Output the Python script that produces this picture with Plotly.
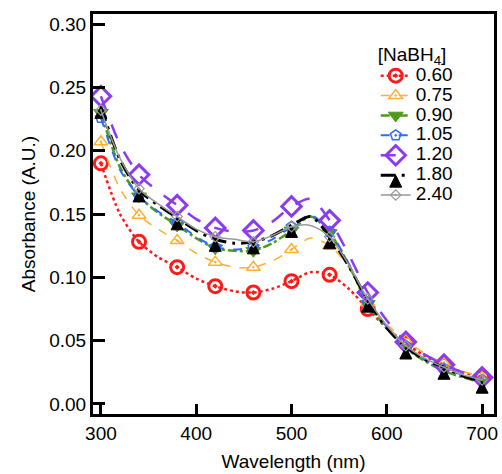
import plotly.graph_objects as go

wavelength = [300, 320, 340, 360, 380, 400, 420, 440, 460, 480, 500,
              520, 540, 560, 580, 600, 620, 640, 660, 680, 700]

a_060 = [.190, .150, .128, .116, .108, .099, .093, .089, .088, .091, .097,
         .104, .102, .091, .075, .060, .048, .038, .031, .025, .021]
a_075 = [.207, .170, .149, .138, .129, .119, .112, .108, .108, .113, .122,
         .131, .125, .108, .080, .063, .050, .040, .032, .026, .021]
a_090 = [.230, .187, .164, .151, .141, .131, .123, .121, .121, .127, .137,
         .148, .135, .110, .079, .060, .044, .034, .026, .021, .017]
a_105 = [.226, .185, .164, .152, .143, .132, .124, .122, .124, .130, .140,
         .149, .136, .111, .080, .061, .046, .035, .028, .023, .019]
a_120 = [.243, .205, .181, .168, .157, .146, .139, .136, .137, .144, .156,
         .162, .145, .118, .088, .066, .049, .039, .031, .025, .021]
a_180 = [.235, .193, .169, .157, .147, .137, .130, .127, .128, .133, .141,
         .148, .132, .109, .082, .060, .045, .035, .029, .022, .018]
a_240 = [.232, .194, .170, .158, .148, .138, .132, .130, .128, .133, .140,
         .141, .132, .110, .083, .062, .046, .036, .029, .023, .019]

names = ["0.60", "0.75", "0.90", "1.05", "1.20", "1.80", "2.40"]
series = [a_060, a_075, a_090, a_105, a_120, a_180, a_240]
colors = ["#ff1a1a", "#ffb030", "#4f9a1c", "#2f6bff", "#8c3cf0", "#000000", "#999999"]
dashes = ["dot", "dash", "dashdot", "dash", "longdash", "longdashdot", "solid"]
widths = [2.5, 1.5, 2.5, 2, 2.5, 3, 1.5]
symbols = ["circle-open-dot", "triangle-up-open-dot", "triangle-down", "pentagon-open-dot",
           "diamond-open", "arrow-up", "diamond-open-dot"]
msizes = [13, 12, 13, 11, 15, 12, 8]
mlw = [3, 1.5, 1, 1.5, 3, 1, 1.2]

# markers are shown every 40 nm (even indices)
show = [i % 2 == 0 for i in range(len(wavelength))]

fig = go.Figure()
for name, y, c, d, w, s, ms, lw in zip(names, series, colors, dashes, widths, symbols, msizes, mlw):
    mc = [c if v else "rgba(0,0,0,0)" for v in show]
    fig.add_trace(go.Scatter(
        x=wavelength, y=y, name='<span style="font-size:19px">' + name + '</span>',
        mode="lines+markers",
        line=dict(color=c, dash=d, width=w, shape="spline", smoothing=0.8),
        marker=dict(symbol=s, size=ms, color=mc,
                    line=dict(color=mc, width=lw)),
    ))

axis_common = dict(showline=True, linecolor="black", linewidth=3, mirror=True,
                   ticks="inside", tickcolor="black", tickwidth=3,
                   showgrid=False, zeroline=False,
                   tickfont=dict(size=19, color="black"))

fig.update_layout(
    width=502, height=474,
    margin=dict(l=93, r=4, t=14, b=60),
    paper_bgcolor="white", plot_bgcolor="white",
    font=dict(family="Liberation Sans, Arial, sans-serif", color="black"),
    showlegend=True,
    legend=dict(x=0.705, y=0.945, xanchor="left", yanchor="top",
                bgcolor="rgba(255,255,255,0.85)",
                font=dict(size=13, color="black"),
                title=dict(text="[NaBH<sub>4</sub>]", font=dict(size=19)),
                itemwidth=30, tracegroupgap=0),
    xaxis=dict(range=[291.7, 712.5], tickvals=[300, 400, 500, 600, 700], ticklen=10,
               title=dict(text="Wavelength (nm)", font=dict(size=19), standoff=12),
               **axis_common),
    yaxis=dict(range=[-0.0079, 0.3079], tickvals=[0, 0.05, 0.10, 0.15, 0.20, 0.25, 0.30],
               tickformat=".2f", ticklen=12,
               title=dict(text="Absorbance (A.U.)", font=dict(size=19), standoff=9),
               **axis_common),
)

fig.write_html("out.html", config={"displayModeBar": False},
               post_script="document.body.style.margin='0';document.body.style.overflow='hidden';")
